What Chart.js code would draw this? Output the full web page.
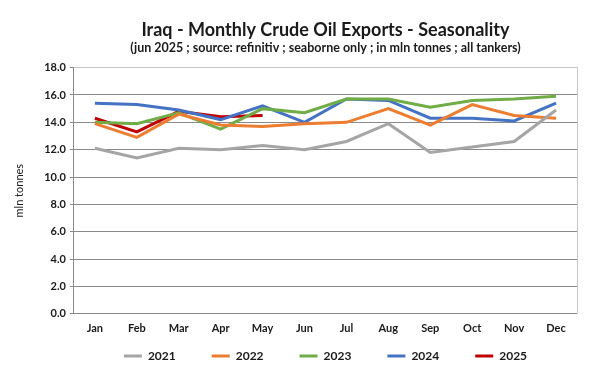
<!DOCTYPE html>
<html>
<head>
<meta charset="utf-8">
<script src="https://cdn.jsdelivr.net/npm/chart.js@4.4.1/dist/chart.umd.min.js"></script>
<style>
  html, body { margin: 0; padding: 0; background: #fff; }
  #wrap { width: 600px; height: 370px; }
</style>
</head>
<body>
<div id="wrap"><canvas id="chart"></canvas></div>
<script>
const months = ['Jan', 'Feb', 'Mar', 'Apr', 'May', 'Jun', 'Jul', 'Aug', 'Sep', 'Oct', 'Nov', 'Dec'];
const y2021 = [12.1, 11.4, 12.1, 12.0, 12.3, 12.0, 12.6, 13.9, 11.8, 12.2, 12.6, 14.9];
const y2022 = [13.9, 12.9, 14.6, 13.8, 13.7, 13.9, 14.0, 15.0, 13.8, 15.3, 14.5, 14.3];
const y2023 = [14.0, 13.9, 14.7, 13.5, 15.0, 14.7, 15.7, 15.7, 15.1, 15.6, 15.7, 15.9];
const y2024 = [15.4, 15.3, 14.9, 14.2, 15.2, 14.0, 15.7, 15.6, 14.3, 14.3, 14.1, 15.4];
const y2025 = [14.3, 13.3, 14.8, 14.4, 14.5];
const yTicks = [0, 2, 4, 6, 8, 10, 12, 14, 16, 18];

const FONT = 'Lato, "Open Sans", sans-serif';
const TXT = '#1a1a1a';

function series(label, data, color) {
    return {
        label: label,
        data: data,
        borderColor: color,
        backgroundColor: color,
        borderWidth: 3,
        pointRadius: 0,
        tension: 0,
        fill: false
    };
}

new Chart(document.getElementById('chart'), {
    type: 'line',
    data: {
        labels: months,
        datasets: [
            series('2021', y2021, '#a5a5a5'),
            series('2022', y2022, '#ed7d31'),
            series('2023', y2023, '#70ad47'),
            series('2024', y2024, '#4472c4'),
            series('2025', y2025, '#c00000')
        ]
    },
    options: {
        responsive: true,
        maintainAspectRatio: false,
        animation: false,
        layout: { padding: { left: 13, right: 15, top: 19, bottom: -2 } },
        plugins: {
            title: {
                display: true,
                fullSize: false,
                text: 'Iraq - Monthly Crude Oil Exports - Seasonality',
                color: TXT,
                font: { family: FONT, size: 18, weight: 'bold' },
                padding: { top: 0, bottom: 0 }
            },
            subtitle: {
                display: true,
                fullSize: false,
                text: '(jun 2025 ; source: refinitiv ; seaborne only ; in mln tonnes ; all tankers)',
                color: TXT,
                font: { family: FONT, size: 12.5, weight: 'bold' },
                padding: { top: 0, bottom: 12 }
            },
            legend: {
                position: 'bottom',
                fullSize: false,
                labels: {
                    usePointStyle: true,
                    pointStyle: 'line',
                    pointStyleWidth: 18,
                    color: TXT,
                    font: { family: FONT, size: 12, weight: 'bold' },
                    padding: 15,
                    generateLabels: (chart) => {
                        const items = Chart.defaults.plugins.legend.labels.generateLabels(chart);
                        items.forEach((it, i) => {
                            if (i < items.length - 1) it.text = it.text + '\u2003\u2003\u2005';
                        });
                        return items;
                    }
                }
            },
            tooltip: { enabled: false }
        },
        scales: {
            x: {
                offset: true,
                grid: { display: false },
                border: { display: true, color: '#8a8a8a', width: 1 },
                ticks: {
                    color: TXT,
                    font: { family: FONT, size: 11, weight: 'bold' },
                    padding: 0,
                    maxRotation: 0
                }
            },
            y: {
                min: 0,
                max: 18,
                afterBuildTicks: (axis) => {
                    axis.ticks = yTicks.map(v => ({ value: v }));
                },
                grid: {
                    color: (ctx) => ctx.tick && ctx.tick.value === 18 ? '#c8c8c8' : '#8a8a8a',
                    tickLength: 4,
                    tickColor: '#8a8a8a'
                },
                border: { display: true, color: '#8a8a8a', width: 1 },
                ticks: {
                    color: TXT,
                    font: { family: FONT, size: 11, weight: 'bold' },
                    padding: 4,
                    callback: (v) => Number(v).toFixed(1)
                },
                title: {
                    display: true,
                    text: 'mln tonnes',
                    color: TXT,
                    font: { family: FONT, size: 11 },
                    padding: { top: 0, bottom: 14 }
                }
            },
            y2: {
                position: 'right',
                min: 0,
                max: 18,
                grid: { display: false },
                ticks: { display: false },
                border: { display: true, color: '#c8c8c8', width: 1 }
            }
        }
    }
});
</script>
</body>
</html>
